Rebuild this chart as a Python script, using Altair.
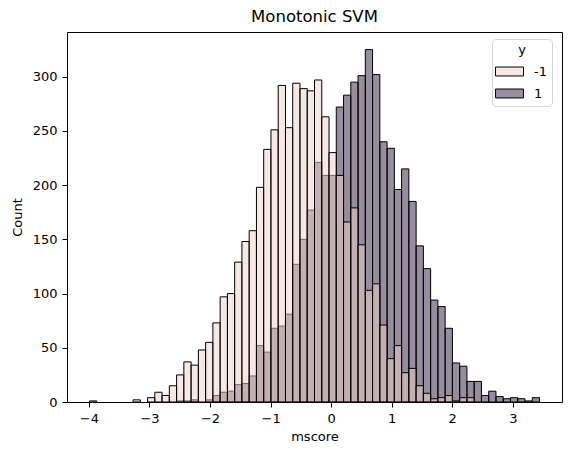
import altair as alt
import pandas as pd

# Histogram bins (shared by both classes)
BIN_START = -3.99
BIN_WIDTH = 0.11985
N_BINS = 62

# Counts per bin, class y = -1
counts_neg = [1, 0, 0, 0, 0, 0, 2, 0, 4, 9,
              6, 15, 25, 37, 34, 48, 55, 73, 97, 100,
              129, 148, 158, 198, 233, 251, 292, 253, 294, 289,
              287, 297, 263, 230, 209, 166, 179, 145, 103, 109,
              71, 40, 52, 27, 31, 15, 8, 3, 4, 6,
              1, 4, 4, 0, 0, 0, 0, 0, 0, 0,
              0, 0]

# Counts per bin, class y = 1
counts_pos = [0, 0, 0, 0, 0, 0, 0, 0, 0, 0,
              0, 0, 1, 1, 2, 0, 2, 6, 9, 10,
              16, 17, 24, 52, 46, 68, 70, 81, 127, 150,
              177, 221, 209, 209, 272, 283, 295, 301, 325, 302,
              240, 234, 196, 215, 185, 144, 123, 94, 88, 68,
              36, 33, 19, 19, 6, 10, 5, 3, 4, 3,
              1, 4]

classes = ["-1", "1"]
colors = ["#edd1cb", "#2d1e3e"]          # bar colours (drawn at 50% fill opacity)
legend_colors = ["#f6e8e5", "#968e9e"]   # the same colours as seen on white
x_ticks = [-4, -3, -2, -1, 0, 1, 2, 3]
y_ticks = [0, 50, 100, 150, 200, 250, 300]

rows = []
for label, counts in (("1", counts_pos), ("-1", counts_neg)):
    for k, c in enumerate(counts):
        if c > 0:
            lo = BIN_START + k * BIN_WIDTH
            rows.append({"y": label, "lo": lo, "hi": lo + BIN_WIDTH, "count": c})
df = pd.DataFrame(rows)

FONT = "DejaVu Sans"

x_enc = alt.X("lo:Q", title="mscore",
              scale=alt.Scale(domain=[-4.3615, 3.812], nice=False, zero=False),
              axis=alt.Axis(values=x_ticks, format="d",
                            labelExpr="replace(datum.label, '-', '\u2212')"))
y_enc = alt.Y("count:Q", title="Count", stack=None,
              scale=alt.Scale(domain=[0, 341.25], nice=False),
              axis=alt.Axis(values=y_ticks))

base = alt.Chart(df)


def bars(label, color):
    return base.transform_filter(alt.datum.y == label).mark_bar(
        fill=color, fillOpacity=0.5, stroke="black", strokeWidth=1
    ).encode(x=x_enc, x2="hi:Q", y=y_enc, y2=alt.datum(0))


# legend-only layer (no rows pass the filter; the legend comes from the scale)
legend_layer = base.transform_filter("false").mark_bar(
    stroke="black", strokeWidth=1
).encode(
    x=x_enc, x2="hi:Q", y=y_enc, y2=alt.datum(0),
    fill=alt.Fill("y:N", title="y",
                  scale=alt.Scale(domain=classes, range=legend_colors),
                  legend=alt.Legend(orient="none", legendX=425, legendY=7)),
)

chart = alt.layer(
    bars("1", colors[1]), bars("-1", colors[0]), legend_layer
).properties(
    width=495,
    height=370,
    autosize=alt.AutoSizeParams(type="none"),
    padding={"left": 67, "top": 32, "right": 9, "bottom": 53},
    title=alt.Title("Monotonic SVM", fontSize=16.5, font=FONT, fontWeight="normal",
                    color="black", anchor="middle", frame="group", offset=7),
).configure_view(
    stroke="black", strokeWidth=1
).configure_axis(
    grid=False, domain=False,
    tickColor="black", tickWidth=1, tickSize=5,
    labelFont=FONT, labelFontSize=13, labelColor="black", labelPadding=5,
    titleFont=FONT, titleFontSize=13, titleColor="black", titleFontWeight="normal",
).configure_axisX(
    titlePadding=5,
).configure_axisY(
    titlePadding=8,
).configure_legend(
    titleFont=FONT, titleFontSize=13, titleFontWeight="normal", titleColor="black",
    titleAnchor="middle", titlePadding=7,
    labelFont=FONT, labelFontSize=13, labelColor="black", labelOffset=17,
    symbolType="M-2,-0.64L2,-0.64L2,0.64L-2,0.64Z", symbolSize=196, symbolOffset=5,
    symbolStrokeColor="black", symbolStrokeWidth=1,
    rowPadding=7, padding=5, strokeColor="#d6d6d6", cornerRadius=4,
    fillColor="white",
)

chart.save("out.html", embed_options={"renderer": "svg", "actions": False})
